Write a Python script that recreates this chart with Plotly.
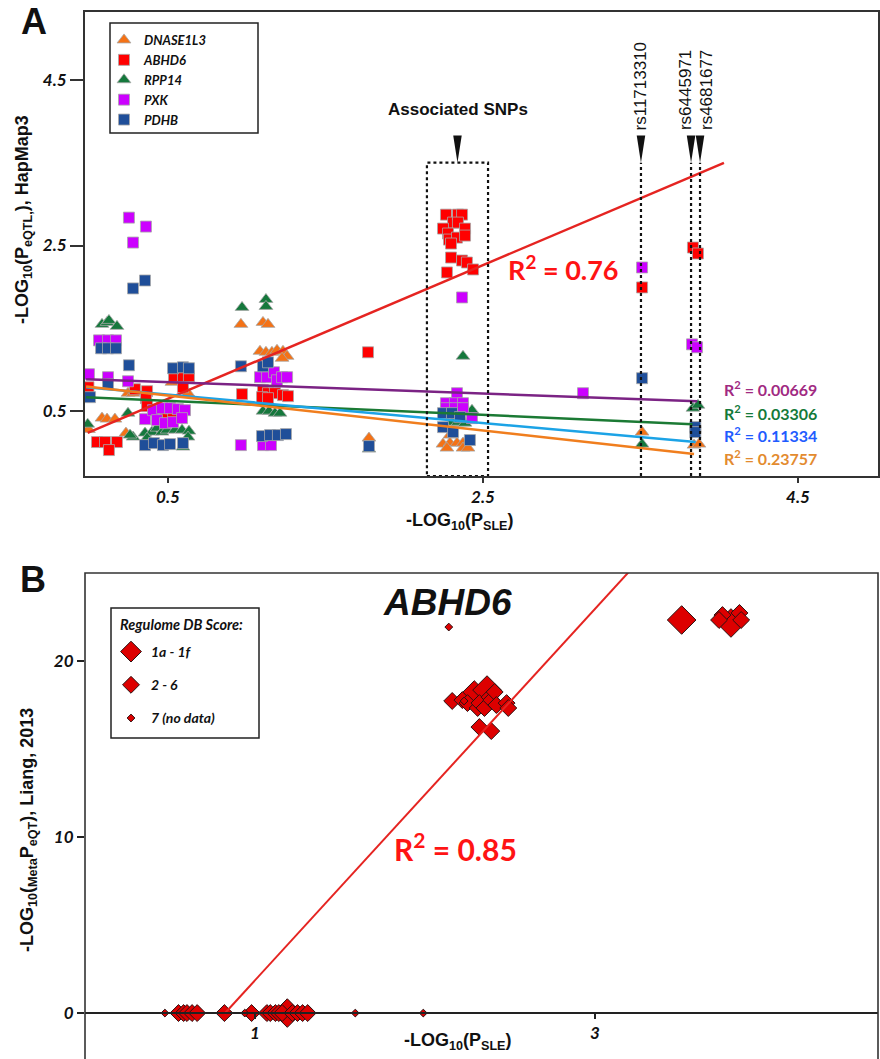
import plotly.graph_objects as go

FIG_W, FIG_H = 880, 1059

# ---------------- Panel A: eQTL (HapMap3) vs SLE association ----------------
genes = ["DNASE1L3", "ABHD6", "RPP14", "PXK", "PDHB"]
gene_colors = ["#f47216", "#ff0000", "#15783c", "#cc00ff", "#1f4e99"]
gene_symbols = ["triangle-up", "square", "triangle-up", "square", "square"]

dnase1l3_x = [0.246, 0.278, 0.081, 0.113, 0.163, -0.005, 0.233, 0.525, 0.627,
              0.963, 1.103, 1.135, 1.084, 1.122, 1.160, 1.192, 1.230, 1.256, 1.224, 1.776,
              2.290, 2.246, 2.290, 2.335, 2.373, 2.271, 2.373, 2.405,
              3.510, 3.840, 3.871]
dnase1l3_y = [0.717, 0.717, 0.416, 0.404, 0.404, 0.280, 0.235, 0.849, 0.717,
              1.548, 1.572, 1.548, 1.223, 1.211, 1.211, 1.235, 1.223, 1.163, 1.139, 0.175,
              0.211, 0.102, 0.114, 0.114, 0.114, 0.054, 0.054, 0.054,
              0.247, 0.090, 0.102]

abhd6_x = [-0.005, 0.290, 0.367, 0.360, 0.367, 0.049, 0.100, 0.176, 0.125, 0.481, 0.532, 0.538, 0.595, 0.633, 0.595,
           0.970, 1.103, 1.135, 1.179, 1.230, 1.262, 1.097, 1.135, 1.770,
           2.265, 2.310, 2.341, 2.367, 2.341, 2.386, 2.246, 2.278, 2.284, 2.335, 2.386, 2.297, 2.297, 2.367,
           2.398, 2.437, 2.271,
           3.510, 3.833, 3.865]
abhd6_y = [0.789, 0.765, 0.741, 0.657, 0.560, 0.127, 0.127, 0.127, 0.030, 0.452, 0.452, 0.922, 0.922, 0.922, 0.789,
           0.705, 0.753, 0.717, 0.717, 0.693, 0.681, 0.669, 0.657, 1.211,
           2.873, 2.777, 2.873, 2.873, 2.777, 2.705, 2.705, 2.645, 2.572, 2.596, 2.620, 2.524, 2.355, 2.319,
           2.295, 2.211, 2.175,
           1.994, 2.476, 2.404]

rpp14_x = [0.081, 0.113, 0.125, 0.176, -0.010, 0.246, 0.278, 0.259, 0.354, 0.398, 0.430, 0.462, 0.494, 0.544,
           0.589, 0.633, 0.367, 0.595, 0.627, 0.449, 0.494,
           0.970, 1.122, 1.122, 1.103, 1.141, 1.179, 1.211, 1.776,
           2.373, 2.430, 2.303, 2.341, 2.386,
           3.510, 3.833, 3.865]
rpp14_y = [1.548, 1.572, 1.596, 1.524, 0.343, 0.476, 0.187, 0.211, 0.235, 0.247, 0.295, 0.247, 0.271, 0.271,
           0.271, 0.259, 0.175, 0.066, 0.187, 0.524, 0.536,
           1.753, 1.849, 1.765, 0.500, 0.500, 0.476, 0.476, 0.042,
           1.163, 0.512, 0.367, 0.367, 0.355,
           0.102, 0.536, 0.572]

pxk_x = [0.252, 0.360, 0.278, 0.062, 0.119, 0.170, -0.002, 0.119, 0.246, 0.354, 0.405, 0.462, 0.513, 0.563,
         0.608, 0.430, 0.481, 0.532, 0.589,
         1.084, 1.129, 1.173, 1.192, 1.224, 1.256, 0.963, 1.103, 1.154,
         2.367, 2.335, 2.265, 2.322, 2.373, 2.265, 2.322, 2.373, 2.430, 3.135,
         3.510, 3.827, 3.859]
pxk_y = [2.837, 2.729, 2.536, 1.355, 1.355, 1.355, 0.946, 0.910, 0.861, 0.404, 0.512, 0.536, 0.536, 0.524,
         0.512, 0.392, 0.355, 0.367, 0.416,
         0.910, 0.910, 0.970, 0.873, 0.910, 0.910, 0.090, 0.090, 0.090,
         1.873, 0.717, 0.596, 0.596, 0.596, 0.536, 0.536, 0.536, 0.416, 0.717,
         2.235, 1.307, 1.271]

pdhb_x = [0.278, 0.354, 0.075, 0.119, 0.170, 0.252, 0.119, 0.005, 0.354, 0.411, 0.468, 0.513, 0.595, 0.532,
          0.595, 0.633,
          0.963, 1.103, 1.135, 1.097, 1.148, 1.198, 1.249, 1.776,
          2.246, 2.303, 2.354, 2.246, 2.310, 2.417,
          3.510, 3.848, 3.848]
pdhb_y = [1.982, 2.078, 1.259, 1.259, 1.259, 1.054, 0.825, 0.669, 0.090, 0.114, 0.090, 0.102, 0.114, 1.018,
          1.030, 1.018,
          1.042, 1.042, 1.090, 0.199, 0.211, 0.211, 0.223, 0.078,
          0.476, 0.476, 0.428, 0.307, 0.247, 0.151,
          0.898, 0.307, 0.247]

gene_x = [dnase1l3_x, abhd6_x, rpp14_x, pxk_x, pdhb_x]
gene_y = [dnase1l3_y, abhd6_y, rpp14_y, pxk_y, pdhb_y]

# Linear fits per gene (ABHD6, PXK, RPP14, PDHB, DNASE1L3)
fit_slope = [0.807, -0.0684, -0.0845, -0.1706, -0.211]
fit_intercept = [0.246, 0.884, 0.666, 0.784, 0.794]
fit_x_start = [-0.01, -0.02, -0.02, -0.02, -0.02]
fit_x_end = [4.03, 3.86, 3.83, 3.85, 3.84]
fit_r2 = ["0.76", "0.00669", "0.03306", "0.11334", "0.23757"]
fit_line_colors = ["#e52421", "#7b2384", "#1b7a34", "#1ca3e6", "#f07e1e"]
fit_text_colors = ["#ff1414", "#a12a82", "#147a3a", "#1f5cff", "#e38b2f"]

# Associated SNP window and individual SNPs
assoc_window_x = [2.144, 2.532]
snp_x = [3.503, 3.821, 3.878]
snp_ids = ["rs11713310", "rs6445971", "rs4681677"]
guide_top_y = 3.5

XA_RANGE = [-0.027, 5.008]
YA_RANGE = [-0.283, 5.32]
xa_ticks = [0.5, 2.5, 4.5]
ya_ticks = [0.5, 2.5, 4.5]

# ---------------- Panel B: ABHD6, Liang 2013 meta eQTL ----------------
score_title = "Regulome DB Score:"
score_labels = ["1a - 1f", "2 - 6", "7 (no data)"]
score_sizes = [22, 13, 6]

large_x = [1.19, 2.29, 2.365, 3.51, 3.80]
large_y = [0.0, 18.07, 18.35, 22.33, 22.16]
medium_x = [0.55, 0.58, 0.60, 0.63, 0.66, 0.82, 0.98, 1.07, 1.09, 1.12, 1.14, 1.16, 1.22, 1.25, 1.28, 1.31,
            2.16, 2.22, 2.25, 2.31, 2.32, 2.35, 2.38, 2.39, 2.41, 2.42, 2.48, 2.49, 2.32, 2.39,
            3.75, 3.73, 3.85, 3.86]
medium_y = [0.0, 0.0, 0.0, 0.0, 0.0, 0.0, 0.0, 0.0, 0.0, 0.0, 0.0, 0.0, 0.0, 0.0, 0.0, 0.0,
            17.73, 17.78, 17.61, 17.33, 17.61, 17.33, 17.95, 17.78, 18.24, 17.50, 17.61, 17.33, 16.25, 16.02,
            22.61, 22.33, 22.73, 22.33]
small_x = [0.47, 0.94, 1.59, 1.99, 2.14, 2.23]
small_y = [0.0, 0.0, 0.0, 0.0, 21.93, 17.73]

score_x = [large_x, medium_x, small_x]
score_y = [large_y, medium_y, small_y]

fitB_slope = 10.55
fitB_intercept = -8.69
fitB_x = [0.82, 3.30]
fitB_r2 = "0.85"

XB_RANGE = [0.0, 4.665]
YB_RANGE = [-2.61, 25.0]
xb_ticks = [1, 3]
yb_ticks = [0, 10, 20]

# ---------------- layout helpers ----------------
def px_x(p):
    return p / FIG_W

def px_y(p):
    return 1 - p / FIG_H

def bi(v):
    return f"<b><i>{v}</i></b>"

ARIAL = "Liberation Sans, Arial, sans-serif"
CALI = "Lato, Open Sans, sans-serif"
tick_font = dict(family=CALI, size=17, color="#111")
legend_font_a = dict(family=CALI, size=13, color="#111", weight="bold", style="italic")
legend_font_b = dict(family=CALI, size=14, color="#111", weight="bold", style="italic")

fig = go.Figure()

# Panel A markers
for name, xs, ys, col, sym in zip(genes, gene_x, gene_y, gene_colors, gene_symbols):
    fig.add_trace(go.Scatter(
        x=xs, y=ys, mode="markers", name=name, legend="legend",
        marker=dict(symbol=sym, size=11 if sym == "square" else 12, color=col,
                    line=dict(color="#a8a8a8", width=0.8)),
        xaxis="x", yaxis="y", cliponaxis=True,
    ))

# Panel A fit lines
for m, b, x0, x1, col in zip(fit_slope, fit_intercept, fit_x_start, fit_x_end, fit_line_colors):
    fig.add_trace(go.Scatter(
        x=[x0, x1], y=[m * x0 + b, m * x1 + b], mode="lines", showlegend=False,
        line=dict(color=col, width=2.5), xaxis="x", yaxis="y", hoverinfo="skip",
    ))

# Panel B markers
for lab, xs, ys, sz in zip(score_labels, score_x, score_y, score_sizes):
    fig.add_trace(go.Scatter(
        x=xs, y=ys, mode="markers", name=lab, legend="legend2", legendgroup=lab,
        marker=dict(symbol="diamond", size=sz, color="#dd0000",
                    line=dict(color="#2b1212", width=1)),
        xaxis="x2", yaxis="y2", cliponaxis=False,
    ))

# Panel B fit line
fig.add_trace(go.Scatter(
    x=fitB_x, y=[fitB_slope * v + fitB_intercept for v in fitB_x], mode="lines", showlegend=False,
    line=dict(color="#e52421", width=2), xaxis="x2", yaxis="y2", hoverinfo="skip",
))

shapes = []
dot_line = dict(color="#111", width=2.2, dash="dot")

# dotted window around the associated SNPs
shapes.append(dict(type="rect", xref="x", yref="y", x0=assoc_window_x[0], x1=assoc_window_x[1],
                   y0=YA_RANGE[0], y1=guide_top_y, line=dot_line))
# dotted guides for the individual SNPs
for sx in snp_x:
    shapes.append(dict(type="line", xref="x", yref="y", x0=sx, x1=sx,
                       y0=YA_RANGE[0], y1=guide_top_y, line=dot_line))

# black wedge pointers above the window and the SNP guides
WEDGE_HALF_W = 0.027
WEDGE_H = 0.33
for cx in [sum(assoc_window_x) / 2] + snp_x:
    shapes.append(dict(type="path", xref="x", yref="y",
                       path=f"M {cx - WEDGE_HALF_W},{guide_top_y + WEDGE_H} L {cx + WEDGE_HALF_W},"
                            f"{guide_top_y + WEDGE_H} L {cx},{guide_top_y} Z",
                       fillcolor="#111", line=dict(width=0)))

# panel B frame
shapes.append(dict(type="rect", xref="paper", yref="paper", x0=px_x(85), x1=px_x(878),
                   y0=-0.02, y1=px_y(573), line=dict(color="#333", width=1.6)))

# legend boxes
shapes.append(dict(type="rect", xref="paper", yref="paper", x0=px_x(110), x1=px_x(258),
                   y0=px_y(133), y1=px_y(23), line=dict(color="#222", width=1.5), fillcolor="white",
                   layer="above"))
shapes.append(dict(type="rect", xref="paper", yref="paper", x0=px_x(111), x1=px_x(259),
                   y0=px_y(738), y1=px_y(608), line=dict(color="#222", width=1.5), fillcolor="white",
                   layer="above"))

annotations = []

def ann(text, x, y, size, color="#111", family=ARIAL, weight="bold", style="normal", angle=0,
        xanchor="center", yanchor="middle"):
    annotations.append(dict(text=text, x=px_x(x), y=px_y(y), xref="paper", yref="paper",
                            showarrow=False, textangle=angle, xanchor=xanchor, yanchor=yanchor,
                            font=dict(family=family, size=size, color=color, weight=weight, style=style)))

ann("A", 34, 22, 36)
ann("B", 33, 579, 36)
ann("Associated SNPs", 458, 110, 17)
snp_shift = [0, -5, 7]
for sid, sx, sh in zip(snp_ids, snp_x, snp_shift):
    annotations.append(dict(text=sid, x=sx, y=px_y(132), xref="x", yref="paper", xshift=sh,
                            showarrow=False, textangle=-90, xanchor="center", yanchor="bottom",
                            font=dict(family=ARIAL, size=17, color="#111")))

# R² labels for panel A
ann(f"R<sup>2</sup> = {fit_r2[0]}", 563, 268, 27, color=fit_text_colors[0], family=CALI)
for r2, col, yy in zip(fit_r2[1:], fit_text_colors[1:], [388, 412, 434, 457]):
    ann(f"R<sup>2</sup> = {r2}", 722, yy, 16, color=col, family=CALI, xanchor="left")

# panel B title, legend heading and R²
ann("ABHD6", 447, 602, 37, style="italic")
ann(score_title, 118, 625, 14.5, family=CALI, style="italic", xanchor="left")
ann(f"R<sup>2</sup> = {fitB_r2}", 455, 847, 30, color=fit_text_colors[0], family=CALI)

# axis titles
ann("-LOG<sub>10</sub>(P<sub>eQTL,</sub>), HapMap3", 24, 220, 18, angle=-90)
ann("-LOG<sub>10</sub>(P<sub>SLE</sub>)", 460, 521, 18)
ann("-LOG<sub>10</sub>(<sub>Meta</sub>P<sub>eQT</sub>), Liang, 2013", 28, 830, 18, angle=-90)
ann("-LOG<sub>10</sub>(P<sub>SLE</sub>)", 458, 1041, 18)

fig.update_layout(
    width=FIG_W, height=FIG_H,
    margin=dict(l=0, r=0, t=0, b=0),
    paper_bgcolor="white", plot_bgcolor="white",
    xaxis=dict(domain=[px_x(85), px_x(878)], range=XA_RANGE, tickvals=xa_ticks,
               ticktext=[bi(v) for v in xa_ticks], ticks="outside", ticklen=5, tickwidth=1.5, tickcolor="#333",
               showline=True, linecolor="#333", linewidth=2, mirror=True, showgrid=False, zeroline=False,
               tickfont=tick_font, anchor="y"),
    yaxis=dict(domain=[px_y(476), px_y(12)], range=YA_RANGE, tickvals=ya_ticks,
               ticktext=[bi(v) for v in ya_ticks], ticks="outside", ticklen=13, tickwidth=1.5, tickcolor="#333",
               showline=True, linecolor="#333", linewidth=2, mirror=True, showgrid=False, zeroline=False,
               tickfont=tick_font, anchor="x"),
    xaxis2=dict(domain=[px_x(85), px_x(878)], range=XB_RANGE, tickvals=xb_ticks,
                ticktext=[bi(v) for v in xb_ticks],
                ticks="outside", ticklen=5, tickwidth=1.5, tickcolor="#222",
                showline=True, linecolor="#222", linewidth=1.6, showgrid=False, zeroline=False,
                tickfont=tick_font, anchor="free", position=px_y(1013)),
    yaxis2=dict(domain=[0, px_y(573)], range=YB_RANGE, tickvals=yb_ticks,
                ticktext=[bi(v) for v in yb_ticks],
                ticks="outside", ticklen=7, tickwidth=1.5, tickcolor="#222",
                showline=False, showgrid=False, zeroline=False, tickfont=tick_font, anchor="x2"),
    legend=dict(x=px_x(104), y=px_y(25), xanchor="left", yanchor="top", bgcolor="rgba(0,0,0,0)",
                borderwidth=0, font=legend_font_a, tracegroupgap=0,
                itemclick=False, itemdoubleclick=False),
    legend2=dict(x=px_x(111), y=px_y(636), xanchor="left", yanchor="top", bgcolor="rgba(0,0,0,0)",
                 borderwidth=0, font=legend_font_b, tracegroupgap=12,
                 itemclick=False, itemdoubleclick=False),
    shapes=shapes,
    annotations=annotations,
    showlegend=True,
)

fig.write_html("out.html")
